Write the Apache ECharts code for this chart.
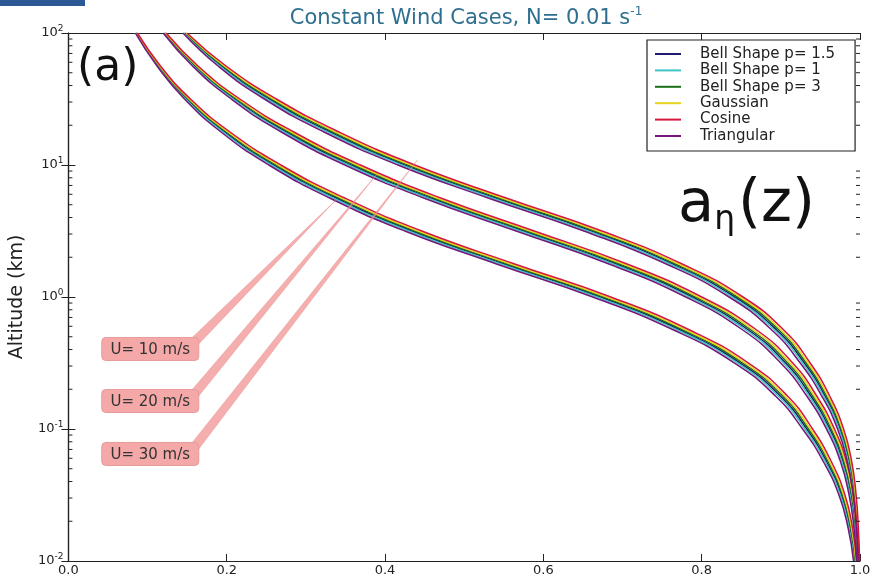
<!DOCTYPE html>
<html>
<head>
<meta charset="utf-8">
<script src="https://cdn.jsdelivr.net/npm/echarts@6.0.0/dist/echarts.min.js"></script>
<style>
  html, body { margin: 0; padding: 0; background: #ffffff; }
  #chart { width: 875px; height: 580px; }
</style>
</head>
<body>
<div id="chart"></div>
<script>
// ---------------- DATA ----------------
const altitudes = [100, 56.23, 31.62, 17.78, 10, 5.623, 3.162, 1.778, 1, 0.5623, 0.3162, 0.1778, 0.1, 0.05623, 0.03162, 0.01778, 0.01];

const seriesNames = ['Bell Shape p= 1.5', 'Bell Shape p= 1', 'Bell Shape p= 3', 'Gaussian', 'Cosine', 'Triangular'];
const windCases = ['U= 10 m/s', 'U= 20 m/s', 'U= 30 m/s'];

// U = 10 m/s
const bell15_U10 = [0.0856,0.1137,0.1497,0.1975,0.2594,0.3379,0.4338,0.5503,0.6718,0.7729,0.8487,0.8994,0.9327,0.9581,0.9765,0.9873,0.9934];
const bell1_U10  = [0.0851,0.1129,0.1484,0.1954,0.2567,0.3345,0.4299,0.5462,0.6677,0.7693,0.8455,0.8967,0.9304,0.9563,0.9752,0.9863,0.9927];
const bell3_U10  = [0.0860,0.1145,0.1511,0.1995,0.2622,0.3413,0.4376,0.5543,0.6758,0.7765,0.8519,0.9022,0.9349,0.9599,0.9779,0.9883,0.9940];
const gauss_U10  = [0.0865,0.1153,0.1524,0.2016,0.2649,0.3447,0.4415,0.5584,0.6799,0.7801,0.8551,0.9049,0.9372,0.9617,0.9792,0.9893,0.9947];
const cos_U10    = [0.0871,0.1163,0.1542,0.2042,0.2684,0.3491,0.4464,0.5637,0.6852,0.7848,0.8591,0.9084,0.9401,0.9640,0.9810,0.9906,0.9956];
const tri_U10    = [0.0845,0.1119,0.1466,0.1928,0.2532,0.3301,0.4250,0.5409,0.6624,0.7646,0.8415,0.8932,0.9275,0.9540,0.9734,0.9850,0.9918];

// U = 20 m/s
const bell15_U20 = [0.1213,0.1597,0.2102,0.2755,0.3573,0.4576,0.5750,0.6923,0.7882,0.8591,0.9060,0.9379,0.9618,0.9786,0.9885,0.9940,0.9970];
const bell1_U20  = [0.1206,0.1584,0.2083,0.2726,0.3538,0.4537,0.5709,0.6882,0.7846,0.8559,0.9033,0.9356,0.9600,0.9773,0.9875,0.9933,0.9965];
const bell3_U20  = [0.1219,0.1609,0.2122,0.2783,0.3609,0.4614,0.5790,0.6963,0.7918,0.8623,0.9088,0.9401,0.9636,0.9800,0.9895,0.9946,0.9974];
const gauss_U20  = [0.1226,0.1622,0.2141,0.2812,0.3644,0.4653,0.5831,0.7004,0.7954,0.8655,0.9115,0.9424,0.9654,0.9813,0.9905,0.9953,0.9979];
const cos_U20    = [0.1235,0.1638,0.2166,0.2848,0.3689,0.4702,0.5884,0.7057,0.8001,0.8695,0.9150,0.9453,0.9677,0.9831,0.9918,0.9962,0.9985];
const tri_U20    = [0.1197,0.1568,0.2058,0.2690,0.3493,0.4488,0.5656,0.6829,0.7799,0.8519,0.8998,0.9327,0.9577,0.9755,0.9862,0.9924,0.9959];

// U = 30 m/s
const bell15_U30 = [0.1467,0.1932,0.2537,0.3307,0.4250,0.5396,0.6606,0.7635,0.8418,0.8947,0.9297,0.9558,0.9748,0.9863,0.9929,0.9964,0.9984];
const bell1_U30  = [0.1458,0.1914,0.2510,0.3273,0.4211,0.5355,0.6565,0.7599,0.8386,0.8920,0.9274,0.9540,0.9735,0.9853,0.9922,0.9959,0.9981];
const bell3_U30  = [0.1477,0.1950,0.2565,0.3341,0.4288,0.5436,0.6646,0.7671,0.8450,0.8975,0.9319,0.9576,0.9762,0.9873,0.9935,0.9968,0.9988];
const gauss_U30  = [0.1486,0.1968,0.2592,0.3375,0.4327,0.5477,0.6687,0.7707,0.8482,0.9002,0.9342,0.9594,0.9775,0.9883,0.9942,0.9973,0.9991];
const cos_U30    = [0.1497,0.1991,0.2627,0.3419,0.4376,0.5530,0.6740,0.7754,0.8522,0.9037,0.9371,0.9617,0.9793,0.9896,0.9951,0.9979,0.9995];
const tri_U30    = [0.1447,0.1891,0.2475,0.3229,0.4162,0.5302,0.6512,0.7552,0.8346,0.8885,0.9245,0.9517,0.9717,0.9840,0.9913,0.9953,0.9976];

// annotation targets (data coords) and label anchors (data coords)
const annotTipX = [0.338, 0.391, 0.441];
const annotTipY = [5.43, 8.69, 10.9];
const annotBoxX = [0.1034, 0.1034, 0.1034];
const annotBoxY = [0.404, 0.163, 0.0647];

// minor ticks of the log axis
const yMinorTicks = [0.02,0.03,0.04,0.05,0.06,0.07,0.08,0.09,
                     0.2,0.3,0.4,0.5,0.6,0.7,0.8,0.9,
                     2,3,4,5,6,7,8,9,
                     20,30,40,50,60,70,80,90];

// ---------------- STYLE ----------------
const colors = ['#1c1c6a', '#3ec4c4', '#1a6e1a', '#e6d31e', '#d5163e', '#74167a'];
const groups = [
  [bell15_U10, bell15_U20, bell15_U30],
  [bell1_U10, bell1_U20, bell1_U30],
  [bell3_U10, bell3_U20, bell3_U30],
  [gauss_U10, gauss_U20, gauss_U30],
  [cos_U10, cos_U20, cos_U30],
  [tri_U10, tri_U20, tri_U30]
];
const FONT = 'DejaVu Sans';

const series = [];
seriesNames.forEach((name, i) => {
  groups[i].forEach(arr => {
    series.push({
      name: name,
      type: 'line',
      xAxisIndex: 0, yAxisIndex: 0,
      showSymbol: false,
      symbol: 'none',
      smooth: 0.5,
      silent: true,
      lineStyle: { color: colors[i], width: 1.5 },
      itemStyle: { color: colors[i] },
      data: arr.map((x, k) => [x, altitudes[k]]),
      z: 2 + i
    });
  });
});

series.push({
  type: 'custom',
  name: 'minorTicks',
  xAxisIndex: 0, yAxisIndex: 0,
  silent: true,
  clip: false,
  data: yMinorTicks.map(v => [0, v]),
  renderItem: function (params, api) {
    const v = api.value(1);
    const p = api.coord([0, v]);
    const q = api.coord([1, v]);
    return {
      type: 'group',
      children: [
        { type: 'line', shape: { x1: p[0], y1: p[1], x2: p[0] + 4, y2: p[1] }, style: { stroke: '#222', lineWidth: 1 } },
        { type: 'line', shape: { x1: q[0] - 4, y1: q[1], x2: q[0], y2: q[1] }, style: { stroke: '#222', lineWidth: 1 } }
      ]
    };
  },
  z: 20
});

const axisLineStyle = { show: true, lineStyle: { color: '#222', width: 1.2 } };
const tickStyle = { show: true, inside: true, length: 7, lineStyle: { color: '#222', width: 1 } };

const option = {
  backgroundColor: '#ffffff',
  animation: false,
  grid: { left: 67, right: 15, top: 33, bottom: 19, containLabel: false },
  legend: {
    data: seriesNames,
    orient: 'vertical',
    left: 647,
    top: 40,
    icon: 'rect',
    itemWidth: 26,
    itemHeight: 2,
    itemGap: 0.4,
    padding: [6, 20, 7, 8],
    borderColor: '#222',
    borderWidth: 1.2,
    borderRadius: 0,
    backgroundColor: '#ffffff',
    selectedMode: false,
    textStyle: { fontFamily: FONT, fontSize: 15, color: '#222', lineHeight: 16, padding: [0, 0, 0, 14] }
  },
  xAxis: [
    {
      type: 'value', min: 0, max: 1, interval: 0.2, position: 'bottom',
      axisLine: axisLineStyle, axisTick: tickStyle, splitLine: { show: false },
      axisLabel: { show: true, margin: 3, fontFamily: FONT, fontSize: 13, color: '#222',
                   formatter: v => v.toFixed(1) }
    },
    {
      type: 'value', min: 0, max: 1, interval: 0.2, position: 'top',
      axisLine: axisLineStyle, axisTick: tickStyle, splitLine: { show: false },
      axisLabel: { show: false }
    }
  ],
  yAxis: [
    {
      type: 'log', logBase: 10, min: 0.01, max: 100, position: 'left',
      axisLine: axisLineStyle, axisTick: tickStyle, splitLine: { show: false },
      name: 'Altitude (km)', nameLocation: 'middle', nameGap: 40, nameRotate: 90,
      nameTextStyle: { fontFamily: FONT, fontSize: 19, color: '#222' },
      axisLabel: {
        show: true, margin: 5,
        formatter: function (v) {
          const e = Math.round(Math.log10(v));
          return '{b|10}{s|' + e + '}';
        },
        rich: {
          b: { fontFamily: FONT, fontSize: 13, color: '#222' },
          s: { fontFamily: FONT, fontSize: 9, color: '#222', padding: [0, 0, 9, 0] }
        }
      }
    },
    {
      type: 'log', logBase: 10, min: 0.01, max: 100, position: 'right',
      axisLine: axisLineStyle, axisTick: tickStyle, splitLine: { show: false },
      axisLabel: { show: false }
    }
  ],
  series: series
};

const chart = echarts.init(document.getElementById('chart'), null, { renderer: 'canvas' });
chart.setOption(option);

// ---------- annotations & texts ----------
const graphics = [];
graphics.push({ type: 'rect', left: 0, top: 0, shape: { x: 0, y: 0, width: 85, height: 6 }, style: { fill: '#2c5896' }, z: 100 });
graphics.push({
  type: 'text', x: 466, y: 19, z: 100,
  style: {
    text: '{t|Constant Wind Cases, N= 0.01 s}{s|-1}',
    align: 'center', verticalAlign: 'middle',
    rich: {
      t: { fontFamily: FONT, fontSize: 21, fill: '#2f6f8f' },
      s: { fontFamily: FONT, fontSize: 12, fill: '#2f6f8f', padding: [0, 0, 14, 0] }
    }
  }
});
graphics.push({
  type: 'text', x: 77, y: 69, z: 100,
  style: { text: '(a)', fontFamily: FONT, fontSize: 44, fill: '#111', align: 'left', verticalAlign: 'middle' }
});
graphics.push({
  type: 'text', x: 678, y: 206, z: 100,
  style: {
    text: '{a|a}{s|η}{a|(z)}',
    align: 'left', verticalAlign: 'middle',
    rich: {
      a: { fontFamily: FONT, fontSize: 59, fill: '#111' },
      s: { fontFamily: FONT, fontSize: 33, fill: '#111', padding: [28, 3, 0, 0] }
    }
  }
});

for (let i = 0; i < windCases.length; i++) {
  const tip = chart.convertToPixel({ xAxisIndex: 0, yAxisIndex: 0 }, [annotTipX[i], annotTipY[i]]);
  const c = chart.convertToPixel({ xAxisIndex: 0, yAxisIndex: 0 }, [annotBoxX[i], annotBoxY[i]]);
  const w = 97, h = 23;
  graphics.push({
    type: 'polygon', z: 110,
    shape: { points: [[tip[0], tip[1]], [c[0] + 42, c[1] - 11.5], [c[0] + 48.5, c[1] - 5]] },
    style: { fill: 'rgba(240,140,140,0.7)', stroke: 'rgba(230,130,130,0.7)', lineWidth: 0.5 }
  });
  graphics.push({
    type: 'rect', z: 111,
    shape: { x: c[0] - w / 2, y: c[1] - h / 2, width: w, height: h, r: 4 },
    style: { fill: '#f5a8a8', stroke: '#e79a9a', lineWidth: 1 }
  });
  graphics.push({
    type: 'text', z: 112, x: c[0], y: c[1] + 1,
    style: { text: windCases[i], fontFamily: FONT, fontSize: 15, fill: '#333', align: 'center', verticalAlign: 'middle' }
  });
}
chart.setOption({ graphic: graphics });
</script>
</body>
</html>
